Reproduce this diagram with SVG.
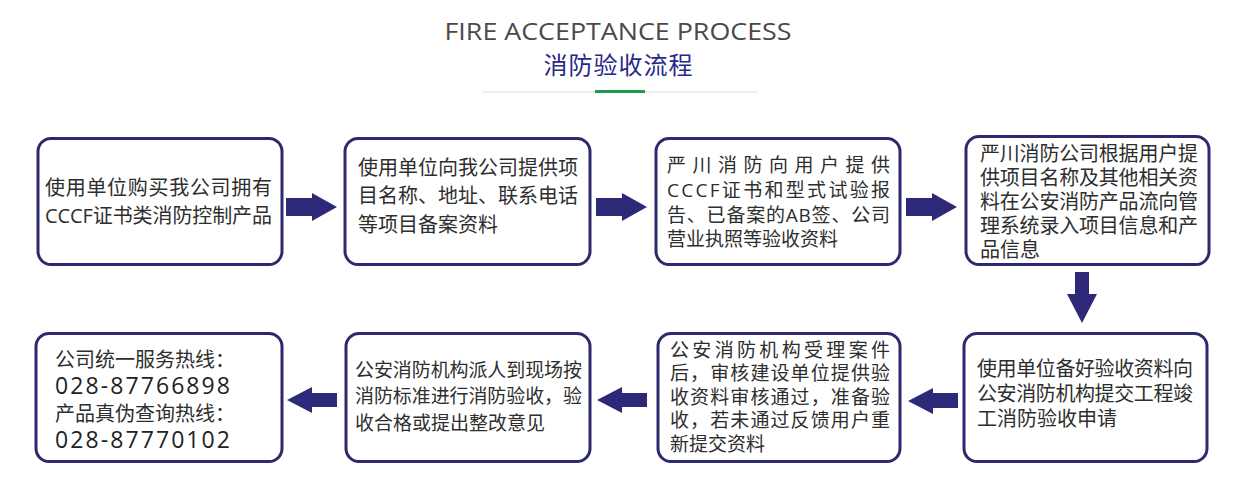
<svg xmlns="http://www.w3.org/2000/svg" width="1244" height="500" viewBox="0 0 1244 500">
<style>
.box{fill:#ffffff;stroke:#2c2a6e;stroke-width:3}
.t{font-family:"Open Sans","Noto Sans CJK SC",sans-serif;font-size:20px;fill:#2e2e2e}
.s{font-size:19px}
.num{font-family:"Open Sans","Noto Sans CJK SC",sans-serif;font-size:23px;fill:#222222}
.arr{fill:#2e2879}
</style>
<rect x="0" y="0" width="1244" height="500" fill="#ffffff"/>
<g id="title">
<text x="618" y="40" text-anchor="middle" font-family="'Open Sans',sans-serif" font-size="24" fill="#4a4a4a" textLength="347" lengthAdjust="spacingAndGlyphs">FIRE ACCEPTANCE PROCESS</text>
<text x="618" y="74" text-anchor="middle" font-family="'Noto Sans CJK SC',sans-serif" font-size="24" fill="#28288a" textLength="149">消防验收流程</text>
<line x1="483" y1="92" x2="757" y2="92" stroke="#e6e6e6" stroke-width="1.5"/>
<line x1="595" y1="91.5" x2="645" y2="91.5" stroke="#1f9a4b" stroke-width="3"/>
</g>
<g id="node1">
<rect class="box" x="38" y="138.5" width="244" height="126" rx="13"/>
<text class="t" x="45" y="195" textLength="227">使用单位购买我公司拥有</text>
<text class="t" x="45" y="223" textLength="227">CCCF证书类消防控制产品</text>
</g>
<g id="node2">
<rect class="box" x="345" y="138.5" width="245" height="126" rx="13"/>
<text class="t" x="358" y="175" textLength="220">使用单位向我公司提供项</text>
<text class="t" x="358" y="203" textLength="220">目名称、地址、联系电话</text>
<text class="t" x="358" y="232">等项目备案资料</text>
</g>
<g id="node3">
<rect class="box" x="656" y="138.5" width="244" height="126" rx="13"/>
<text class="t s" x="667" y="172" textLength="223" lengthAdjust="spacing">严川消防向用户提供</text>
<text class="t s" x="667" y="197" textLength="223" lengthAdjust="spacing">CCCF证书和型式试验报</text>
<text class="t s" x="667" y="222" textLength="223" lengthAdjust="spacing">告、已备案的AB签、公司</text>
<text class="t s" x="667" y="246">营业执照等验收资料</text>
</g>
<g id="node4">
<rect class="box" x="966" y="136.5" width="243" height="128" rx="13"/>
<text class="t" x="980" y="161" textLength="218">严川消防公司根据用户提</text>
<text class="t" x="980" y="185" textLength="218">供项目名称及其他相关资</text>
<text class="t" x="980" y="209" textLength="218">料在公安消防产品流向管</text>
<text class="t" x="980" y="233" textLength="218">理系统录入项目信息和产</text>
<text class="t" x="980" y="257">品信息</text>
</g>
<g id="node5">
<rect class="box" x="964" y="333.5" width="243" height="128" rx="13"/>
<text class="t" x="977" y="376" textLength="216">使用单位备好验收资料向</text>
<text class="t" x="977" y="401" textLength="216">公安消防机构提交工程竣</text>
<text class="t" x="977" y="426">工消防验收申请</text>
</g>
<g id="node6">
<rect class="box" x="658" y="333.5" width="242" height="128" rx="13"/>
<text class="t s" x="670" y="357" textLength="220" lengthAdjust="spacing">公安消防机构受理案件</text>
<text class="t s" x="670" y="380" textLength="220" lengthAdjust="spacing">后，审核建设单位提供验</text>
<text class="t s" x="670" y="404" textLength="220" lengthAdjust="spacing">收资料审核通过，准备验</text>
<text class="t s" x="670" y="427" textLength="220" lengthAdjust="spacing">收，若未通过反馈用户重</text>
<text class="t s" x="670" y="451">新提交资料</text>
</g>
<g id="node7">
<rect class="box" x="346" y="333.5" width="244" height="128" rx="13"/>
<text class="t s" x="355" y="377" textLength="227">公安消防机构派人到现场按</text>
<text class="t s" x="355" y="403" textLength="227">消防标准进行消防验收，验</text>
<text class="t s" x="355" y="430">收合格或提出整改意见</text>
</g>
<g id="node8">
<rect class="box" x="36" y="333.5" width="246" height="128" rx="13"/>
<text class="t" x="55" y="367" font-size="18.5">公司统一服务热线：</text>
<text class="num" x="55" y="394" textLength="175" lengthAdjust="spacing">028-87766898</text>
<text class="t" x="55" y="421" font-size="18.5">产品真伪查询热线：</text>
<text class="num" x="55" y="448" textLength="175" lengthAdjust="spacing">028-87770102</text>
</g>
<g id="connectors">
<polygon class="arr" points="286,198 312,198 312,193 337,207 312,221 312,216 286,216"/>
<polygon class="arr" points="596,198 622,198 622,193 647,207 622,221 622,216 596,216"/>
<polygon class="arr" points="906,198 932,198 932,193 957,207 932,221 932,216 906,216"/>
<polygon class="arr" points="1075,272 1089,272 1089,294 1097,294 1082,323 1067,294 1075,294"/>
<polygon class="arr" points="958,393 933,393 933,388 908,401 933,414 933,408 958,408"/>
<polygon class="arr" points="647,393 622,393 622,387 597,400 622,413 622,407 647,407"/>
<polygon class="arr" points="337,393 312,393 312,387 287,400 312,413 312,407 337,407"/>
</g>
</svg>
